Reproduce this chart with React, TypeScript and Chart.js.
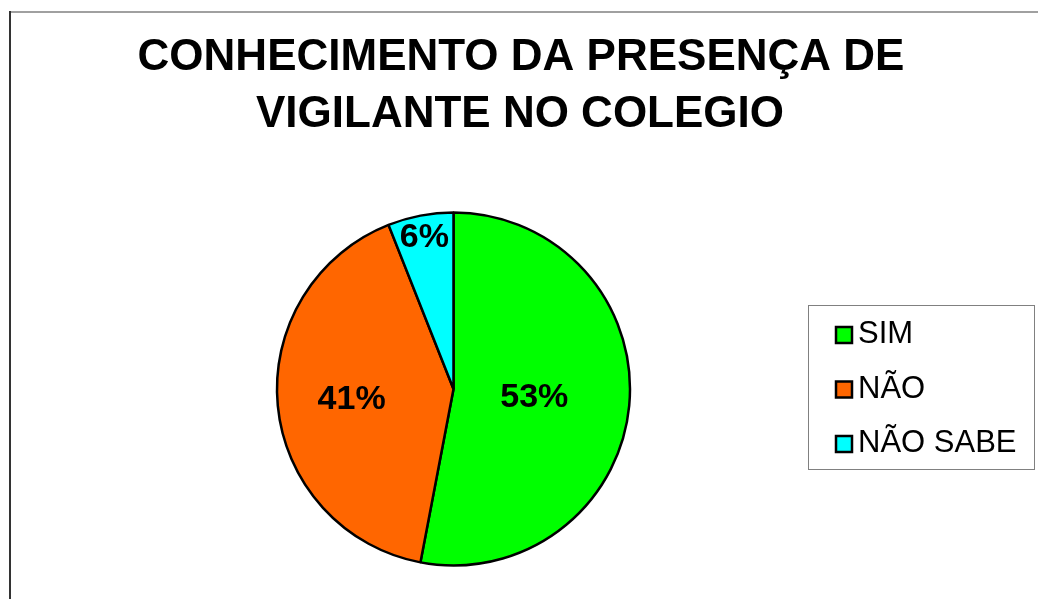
import React, { useEffect, useRef } from "react";
import { Chart, registerables } from "chart.js";

Chart.register(...registerables);

const categories: string[] = ["SIM", "NÃO", "NÃO SABE"];
const values: number[] = [53, 41, 6];
const percentLabels: string[] = ["53%", "41%", "6%"];
const sliceColors: string[] = ["#00FF00", "#FF6600", "#00FFFF"];
const titleLines: string[] = ["CONHECIMENTO DA PRESENÇA DE", "VIGILANTE NO COLEGIO"];

const FONT = '"Liberation Sans", Arial, Helvetica, sans-serif';
// radial placement of each percentage label as a fraction of the radius
const labelRadiusFrac: number[] = [0.46, 0.58, 0.88];

const decorPlugin = {
  id: "decor",
  beforeDraw(chart: any) {
    const ctx = chart.ctx as CanvasRenderingContext2D;
    ctx.save();
    ctx.fillStyle = "#ffffff";
    ctx.fillRect(0, 0, chart.width, chart.height);
    // outer frame
    ctx.strokeStyle = "#808080";
    ctx.lineWidth = 1.5;
    ctx.beginPath();
    ctx.moveTo(10, 12);
    ctx.lineTo(chart.width + 5, 12);
    ctx.stroke();
    ctx.strokeStyle = "#333333";
    ctx.lineWidth = 2;
    ctx.beginPath();
    ctx.moveTo(10, 11);
    ctx.lineTo(10, chart.height + 5);
    ctx.stroke();
    // title
    ctx.fillStyle = "#000";
    ctx.font = `bold 44px ${FONT}`;
    ctx.textAlign = "center";
    ctx.textBaseline = "alphabetic";
    ctx.fillText(titleLines[0], 521, 70);
    ctx.fillText(titleLines[1], 520, 127);
    ctx.restore();
  },
  afterDraw(chart: any) {
    const ctx = chart.ctx as CanvasRenderingContext2D;
    const meta = chart.getDatasetMeta(0);
    ctx.save();
    // percentage labels
    ctx.fillStyle = "#000";
    ctx.font = `bold 34px ${FONT}`;
    ctx.textAlign = "center";
    ctx.textBaseline = "middle";
    meta.data.forEach((arc: any, i: number) => {
      const mid = (arc.startAngle + arc.endAngle) / 2;
      const r = arc.outerRadius * labelRadiusFrac[i];
      const x = arc.x + Math.cos(mid) * r;
      const y = arc.y + Math.sin(mid) * r;
      ctx.fillText(percentLabels[i], x, y + 1);
    });
    // legend
    const lx = 808.5, ly = 305.5, lw = 226, lh = 164;
    ctx.strokeStyle = "#808080";
    ctx.lineWidth = 1;
    ctx.strokeRect(lx, ly, lw, lh);
    ctx.font = `31px ${FONT}`;
    ctx.textAlign = "left";
    ctx.textBaseline = "alphabetic";
    categories.forEach((c, i) => {
      const base = 343 + i * 54.5;
      ctx.fillStyle = sliceColors[i];
      ctx.fillRect(836, base - 16, 16, 16);
      ctx.strokeStyle = "#000";
      ctx.lineWidth = 2.5;
      ctx.strokeRect(836, base - 16, 16, 16);
      ctx.fillStyle = "#000";
      ctx.fillText(c, 858, base);
    });
    ctx.restore();
  },
};

export default function App() {
  const ref = useRef<HTMLCanvasElement | null>(null);
  useEffect(() => {
    if (!ref.current) return;
    const chart = new Chart(ref.current, {
      type: "pie",
      data: {
        labels: categories,
        datasets: [
          {
            data: values,
            backgroundColor: sliceColors,
            borderColor: "#000000",
            borderWidth: 2.5,
          },
        ],
      },
      options: {
        responsive: false,
        animation: false,
        radius: 176.5,
        layout: { padding: { left: 0, right: 131, top: 200, bottom: 21 } },
        plugins: {
          legend: { display: false },
          title: { display: false },
          tooltip: { enabled: false },
        },
      } as any,
      plugins: [decorPlugin],
    });
    return () => chart.destroy();
  }, []);
  return (
    <div style={{ position: "fixed", left: 0, top: 0, width: 1038, height: 599, background: "#fff" }}>
      <canvas ref={ref} width={1038} height={599} style={{ width: 1038, height: 599, display: "block" }} />
    </div>
  );
}
